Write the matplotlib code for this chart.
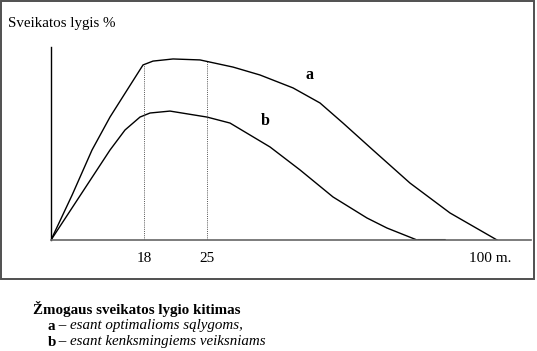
import numpy as np
import matplotlib.pyplot as plt
from matplotlib.patches import Rectangle

# Kreivės (x ir y – santykinės padėtys ašyse, 0..100)
a_x = [0, 4.4, 8.54, 12.29, 15.42, 19.17, 21.25, 25.42, 31.04, 37.92, 43.54,
       50.42, 56.04, 60.83, 67.08, 74.79, 83.13, 92.92]
a_y = [0, 23.3, 46.6, 63.7, 76.0, 90.7, 92.7, 93.8, 93.3, 89.6, 85.5,
       78.8, 71.0, 60.6, 46.6, 29.5, 14.0, 0]
b_x = [0, 12.29, 15.42, 18.54, 20.63, 24.79, 32.5, 37.29, 45.63, 51.88,
       58.75, 65.83, 70.0, 76.25, 82.08]
b_y = [0, 46.6, 57.0, 63.7, 65.8, 66.8, 63.7, 60.6, 48.2, 36.3,
       22.3, 11.4, 6.2, 0, 0]

tick_pos = [19.375, 32.5, 91.46]
tick_labels = ['18', '25', '100 m.']

serif = ['Liberation Serif', 'DejaVu Serif']
plt.rcParams['font.family'] = serif

W, H = 537, 351
fig = plt.figure(figsize=(W / 100, H / 100), dpi=100)

# rėmelis aplink grafiką
fig.patches.append(Rectangle((1 / W, 1 - 279 / H), 533 / W, 278 / H,
                             transform=fig.transFigure, fill=False,
                             edgecolor='#505050', lw=1.4))

ax = fig.add_axes([51 / W, 1 - 240 / H, 480 / W, 193 / H])
ax.set_xlim(0, 100)
ax.set_ylim(0, 100)

ax.plot(a_x, a_y, color='black', lw=1.0)
ax.plot(b_x, b_y, color='black', lw=1.0)
ax.plot(b_x[-2:], b_y[-2:], color='black', lw=2.2, solid_capstyle='butt')

# punktyrinės linijos ties 18 ir 25 m.
for xp in tick_pos[:2]:
    ax.plot([xp, xp], [0, np.interp(xp, a_x, a_y)], color='#555555',
            lw=0.7, ls=(0, (1, 1.2)))

ax.text(53.75, 85.5, 'a', fontsize=11.5, fontweight='bold', ha='center', va='center')
ax.text(44.58, 61.7, 'b', fontsize=11.5, fontweight='bold', ha='center', va='center')

for s in ['top', 'right']:
    ax.spines[s].set_visible(False)
ax.spines['left'].set_color('black')
ax.spines['left'].set_linewidth(1.0)
ax.spines['bottom'].set_color('#666666')
ax.spines['bottom'].set_linewidth(1.2)
ax.set_yticks([])
ax.set_xticks(tick_pos)
ax.set_xticklabels(tick_labels, fontsize=11)
ax.tick_params(axis='x', length=0, pad=9)

fig.text(8 / W, 1 - 23 / H, 'Sveikatos lygis %', fontsize=10.8, va='center')

fig.text(33 / W, 1 - 309 / H, 'Žmogaus sveikatos lygio kitimas',
         fontsize=10.8, fontweight='bold', va='center')
fig.text(48 / W, 1 - 326 / H, 'a', fontsize=10.8, fontweight='bold', va='center')
fig.text(55 / W, 1 - 326 / H, ' – esant optimalioms sąlygoms,',
         fontsize=10.8, style='italic', va='center')
fig.text(48 / W, 1 - 342 / H, 'b', fontsize=10.8, fontweight='bold', va='center')
fig.text(55 / W, 1 - 342 / H, ' – esant kenksmingiems veiksniams',
         fontsize=10.8, style='italic', va='center')

fig.savefig('out.png', dpi=100)
